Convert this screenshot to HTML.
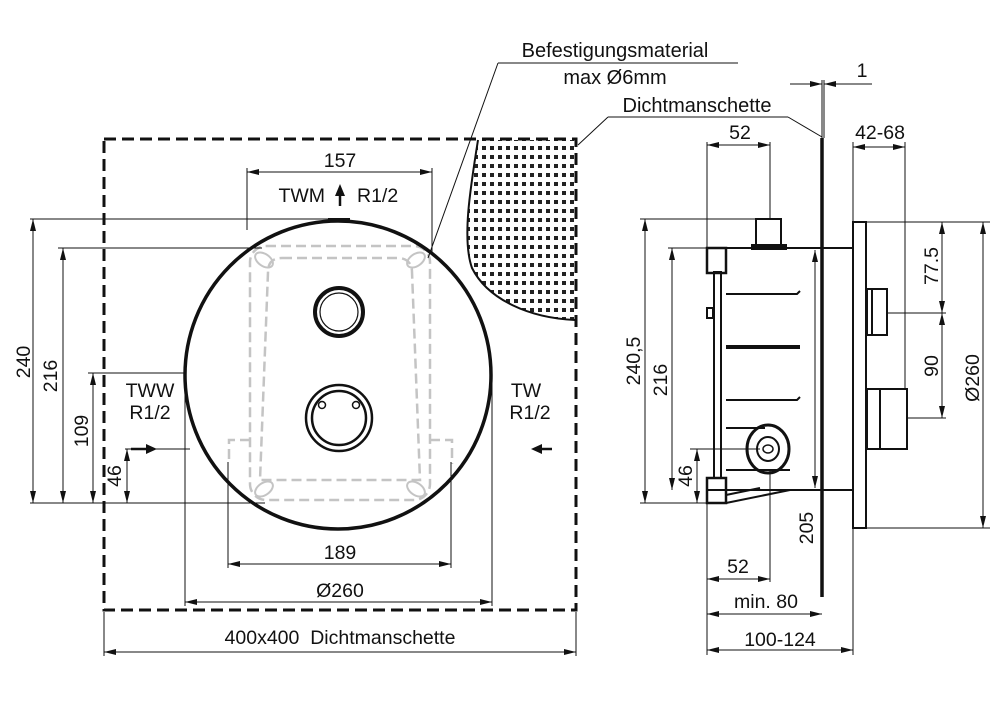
<!DOCTYPE html>
<html><head><meta charset="utf-8"><style>
html,body{margin:0;padding:0;background:#fff}
svg{display:block}
text{font-family:"Liberation Sans",sans-serif;font-size:19.5px;fill:#111}
</style></head><body>
<svg width="1006" height="705" viewBox="0 0 1006 705" xmlns="http://www.w3.org/2000/svg">
<defs>
<marker id="a" viewBox="0 0 12 6" refX="12" refY="3" markerWidth="12" markerHeight="6" orient="auto-start-reverse" markerUnits="userSpaceOnUse"><path d="M0,0 L12,3 L0,6 Z" fill="#111"/></marker>
<pattern id="dots" width="8" height="9" patternUnits="userSpaceOnUse"><rect x="2" y="2" width="4" height="4" fill="#222"/></pattern>
</defs>
<g stroke="#111" fill="none">
<path d="M478,140 C470,190 462,240 472,268 C488,300 530,318 575,320 L575,140 Z" fill="url(#dots)" stroke="none"/>
<path d="M478,140 C470,190 462,240 472,268 C488,300 530,318 575,320" stroke-width="2"/>
<rect x="104" y="139" width="472" height="471" stroke-width="3" stroke-dasharray="12,6"/>
<g stroke="#c4c4c4" stroke-width="2.5" stroke-dasharray="10,5">
<rect x="250" y="246" width="180" height="254" rx="16"/>
<path d="M282,258 L400,258 Q412,260 412,272 L420,480 L260,480 L268,272 Q268,258 282,258"/>
<path d="M250,440 L229,440 L229,464 M430,440 L452,440 L452,464"/>
</g>
<g stroke="#c4c4c4" stroke-width="2">
<ellipse cx="264" cy="260" rx="10" ry="6" transform="rotate(35 264 260)"/>
<ellipse cx="416" cy="260" rx="10" ry="6" transform="rotate(-35 416 260)"/>
<ellipse cx="264" cy="489" rx="10" ry="6" transform="rotate(-35 264 489)"/>
<ellipse cx="416" cy="489" rx="10" ry="6" transform="rotate(35 416 489)"/>
</g>
<ellipse cx="338" cy="375" rx="153" ry="154" stroke-width="3.5"/>
<line x1="328" y1="220" x2="350" y2="220" stroke-width="4"/>
<circle cx="339" cy="312" r="24" stroke-width="4"/>
<circle cx="339" cy="312" r="19" stroke-width="1.2"/>
<circle cx="339" cy="418" r="33" stroke-width="2.5"/>
<circle cx="339" cy="418" r="27" stroke-width="2.5"/>
<circle cx="322" cy="405" r="3.5" stroke-width="1.5"/>
<circle cx="356" cy="405" r="3.5" stroke-width="1.5"/>
<g stroke-width="1">
<path d="M247,230 L247,168 M432,255 L432,168"/>
<line x1="247" y1="172" x2="432" y2="172" marker-start="url(#a)" marker-end="url(#a)"/>
<path d="M30,219 L338,219 M58,248 L262,248 M88,373 L185,373 M125,449 L190,449 M30,503 L265,503"/>
<line x1="33" y1="219" x2="33" y2="503" marker-start="url(#a)" marker-end="url(#a)"/>
<line x1="63" y1="248" x2="63" y2="503" marker-start="url(#a)" marker-end="url(#a)"/>
<line x1="93" y1="373" x2="93" y2="503" marker-start="url(#a)" marker-end="url(#a)"/>
<line x1="127" y1="449" x2="127" y2="503" marker-start="url(#a)" marker-end="url(#a)"/>
<path d="M228,462 L228,568 M451,462 L451,568"/>
<line x1="228" y1="564" x2="451" y2="564" marker-start="url(#a)" marker-end="url(#a)"/>
<path d="M185,375 L185,606 M492,375 L492,606"/>
<line x1="185" y1="602" x2="492" y2="602" marker-start="url(#a)" marker-end="url(#a)"/>
<path d="M104,612 L104,656 M576,612 L576,656"/>
<line x1="104" y1="652" x2="576" y2="652" marker-start="url(#a)" marker-end="url(#a)"/>
<path d="M498,63 L738,63 M498,63 L428,258"/>
<path d="M608,117 L788,117 M608,117 L578,145 M788,117 L822,137"/>
</g>
<g stroke-width="2.5">
<line x1="131" y1="449" x2="148" y2="449"/>
<line x1="552" y1="449" x2="540" y2="449"/>
<line x1="340" y1="206" x2="340" y2="194"/>
</g>
<path d="M157,449 L146,444 L146,454 Z M531,449 L542,444 L542,454 Z M340,184 L335,196 L345,196 Z" fill="#111" stroke="none"/>

<g stroke-width="2">
<line x1="822" y1="138" x2="822" y2="597" stroke-width="3.5"/>
<path d="M707,248 L853,248 M707,490 L853,490"/>
<rect x="707" y="248" width="19" height="25" stroke-width="2.5"/>
<rect x="707" y="478" width="19" height="25" stroke-width="2.5"/>
<rect x="714" y="272" width="7" height="206"/>
<rect x="707" y="308" width="6" height="10"/>
<path d="M726,294 L797,294 L800,291 M726,400 L797,400 L800,397 M726,428 L765,428 M726,470 L790,470"/>
<line x1="726" y1="347" x2="800" y2="347" stroke-width="4"/>
<rect x="756" y="219" width="25" height="27"/>
<rect x="752" y="245" width="34" height="4" fill="#111"/>
<ellipse cx="768" cy="449" rx="21" ry="24" stroke-width="3"/>
<ellipse cx="768" cy="449" rx="11" ry="12"/>
<ellipse cx="768" cy="449" rx="5" ry="4" stroke-width="1.5"/>
<rect x="853" y="222" width="13" height="306"/>
<rect x="867" y="289" width="20" height="46"/>
<line x1="872" y1="289" x2="872" y2="335"/>
<rect x="867" y="389" width="40" height="60"/>
<line x1="880" y1="389" x2="880" y2="449"/>
<path d="M726,503 L790,490 M726,495 L760,488"/>
</g>
<g stroke-width="1">
<path d="M822,80 L822,138 M824,80 L824,138"/>
<line x1="790" y1="84" x2="822" y2="84" marker-end="url(#a)"/>
<line x1="872" y1="84" x2="824" y2="84" marker-end="url(#a)"/>
<path d="M707,142 L707,248 M770,142 L770,219"/>
<line x1="707" y1="145" x2="770" y2="145" marker-start="url(#a)" marker-end="url(#a)"/>
<path d="M853,142 L853,222 M905,142 L905,389"/>
<line x1="853" y1="147" x2="905" y2="147" marker-start="url(#a)" marker-end="url(#a)"/>
<path d="M640,219 L760,219 M640,503 L707,503 M668,248 L707,248 M690,449 L760,449"/>
<line x1="645" y1="219" x2="645" y2="503" marker-start="url(#a)" marker-end="url(#a)"/>
<line x1="672" y1="248" x2="672" y2="490" marker-start="url(#a)" marker-end="url(#a)"/>
<line x1="697" y1="449" x2="697" y2="503" marker-start="url(#a)" marker-end="url(#a)"/>
<line x1="815" y1="250" x2="815" y2="488" marker-start="url(#a)" marker-end="url(#a)"/>
<path d="M770,470 L770,582 M707,503 L707,655 M853,528 L853,655"/>
<line x1="707" y1="579" x2="770" y2="579" marker-start="url(#a)" marker-end="url(#a)"/>
<line x1="707" y1="614" x2="822" y2="614" marker-start="url(#a)" marker-end="url(#a)"/>
<line x1="707" y1="650" x2="853" y2="650" marker-start="url(#a)" marker-end="url(#a)"/>
<path d="M866,222 L990,222 M887,313 L946,313 M907,418 L946,418 M866,528 L990,528"/>
<line x1="942" y1="222" x2="942" y2="313" marker-start="url(#a)" marker-end="url(#a)"/>
<line x1="942" y1="313" x2="942" y2="418" marker-start="url(#a)" marker-end="url(#a)"/>
<line x1="983" y1="222" x2="983" y2="528" marker-start="url(#a)" marker-end="url(#a)"/>
</g>
</g>
<text x="340" y="167" text-anchor="middle">157</text>
<text x="325" y="202" text-anchor="end">TWM</text>
<text x="357" y="202">R1/2</text>
<text x="150" y="397" text-anchor="middle">TWW</text>
<text x="150" y="419" text-anchor="middle">R1/2</text>
<text x="526" y="397" text-anchor="middle">TW</text>
<text x="530" y="419" text-anchor="middle">R1/2</text>
<text x="340" y="559" text-anchor="middle">189</text>
<text x="340" y="597" text-anchor="middle">Ø260</text>
<text x="340" y="644" text-anchor="middle">400x400&#160;&#160;Dichtmanschette</text>
<text transform="translate(30,362) rotate(-90)" text-anchor="middle">240</text>
<text transform="translate(57,376) rotate(-90)" text-anchor="middle">216</text>
<text transform="translate(88,431) rotate(-90)" text-anchor="middle">109</text>
<text transform="translate(121,476) rotate(-90)" text-anchor="middle">46</text>
<text x="615" y="57" text-anchor="middle" style="font-size:20px">Befestigungsmaterial</text>
<text x="615" y="84" text-anchor="middle" style="font-size:20px">max Ø6mm</text>
<text x="697" y="112" text-anchor="middle" style="font-size:20px">Dichtmanschette</text>
<text x="862" y="77" text-anchor="middle">1</text>
<text x="740" y="139" text-anchor="middle">52</text>
<text x="880" y="139" text-anchor="middle">42-68</text>
<text transform="translate(640,361) rotate(-90)" text-anchor="middle">240,5</text>
<text transform="translate(667,380) rotate(-90)" text-anchor="middle">216</text>
<text transform="translate(692,476) rotate(-90)" text-anchor="middle">46</text>
<text transform="translate(813,528) rotate(-90)" text-anchor="middle">205</text>
<text x="738" y="573" text-anchor="middle">52</text>
<text x="766" y="608" text-anchor="middle">min. 80</text>
<text x="780" y="646" text-anchor="middle">100-124</text>
<text transform="translate(938,266) rotate(-90)" text-anchor="middle">77.5</text>
<text transform="translate(938,366) rotate(-90)" text-anchor="middle">90</text>
<text transform="translate(979,378) rotate(-90)" text-anchor="middle">Ø260</text>
</svg>
</body></html>
